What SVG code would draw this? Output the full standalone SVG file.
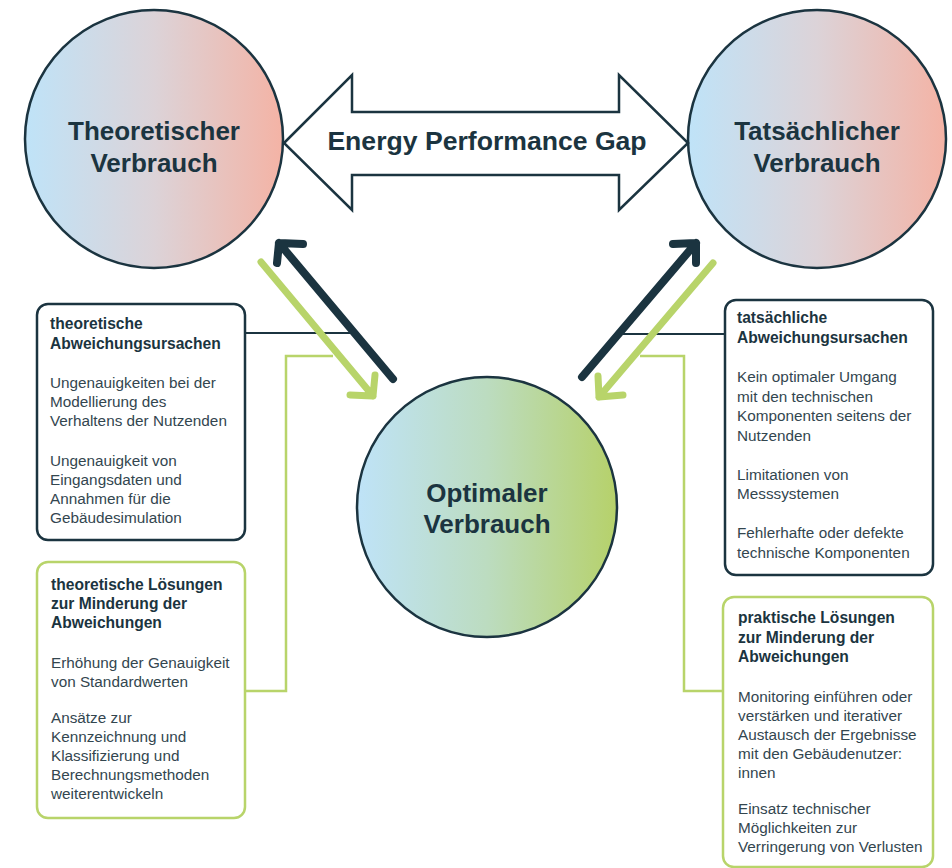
<svg xmlns="http://www.w3.org/2000/svg" width="952" height="868" viewBox="0 0 952 868">
<defs>
<linearGradient id="gRed" x1="0" y1="0" x2="1" y2="0">
<stop offset="0" stop-color="#bfe3f8"/>
<stop offset="0.5" stop-color="#dcd3d8"/>
<stop offset="1" stop-color="#f4b3a5"/>
</linearGradient>
<linearGradient id="gGreen" x1="0" y1="0" x2="1" y2="0">
<stop offset="0" stop-color="#bfe3f8"/>
<stop offset="0.5" stop-color="#bcdcc0"/>
<stop offset="1" stop-color="#b6d16a"/>
</linearGradient>
<style>
.circ{stroke:#1b3440;stroke-width:2.5}
.ctext{font-family:"Liberation Sans",Arial,sans-serif;font-weight:700;font-size:26px;fill:#1b3440;text-anchor:middle}
.gap{font-family:"Liberation Sans",Arial,sans-serif;font-weight:700;font-size:26.6px;fill:#1b3440;text-anchor:middle}
.boxD{fill:#fff;stroke:#1b3440;stroke-width:2.5}
.boxG{fill:#fff;stroke:#b8d46a;stroke-width:2.5}
.title{font-family:"Liberation Sans",Arial,sans-serif;font-weight:700;font-size:15.6px;fill:#1b3440}
.body{font-family:"Liberation Sans",Arial,sans-serif;font-size:15.3px;fill:#33464f}
.lnD{fill:none;stroke:#1b3440;stroke-width:2}
.lnG{fill:none;stroke:#b8d46a;stroke-width:2.5}
.arD{fill:none;stroke:#1b3440;stroke-width:8;stroke-linecap:round;stroke-linejoin:round}
.arG{fill:none;stroke:#b8d46a;stroke-width:7;stroke-linecap:round;stroke-linejoin:round}
</style>
</defs>
<g id="connectors">
<polyline class="lnD" points="245,333 352,333"/>
<polyline class="lnG" points="245,691 286,691 286,356 333,356"/>
<polyline class="lnD" points="622,334 725,334"/>
<polyline class="lnG" points="723,691 684,691 684,356 640,356"/>
<path class="arD" d="M393,379 L279,243 M303,244 L279,243 L277,263"/>
<path class="arG" d="M261,262 L373,396 M375,375 L373,396 L350,395"/>
<path class="arD" d="M582,377 L696,243 M673,244 L696,243 L696,263"/>
<path class="arG" d="M713,263 L599,397 M598,376 L599,397 L623,395"/>
</g>
<g id="theoretisch">
<circle class="circ" cx="154" cy="139" r="129" fill="url(#gRed)"/>
<text class="ctext" x="154" y="140">Theoretischer</text>
<text class="ctext" x="154" y="172">Verbrauch</text>
</g>
<g id="tatsaechlich">
<circle class="circ" cx="817" cy="139" r="129" fill="url(#gRed)"/>
<text class="ctext" x="817" y="140">Tatsächlicher</text>
<text class="ctext" x="817" y="172">Verbrauch</text>
</g>
<g id="gap">
<polygon points="284,143 352,75 352,112 619,112 619,75 688,143 619,210 619,175 352,175 352,210" fill="#fff" stroke="#1b3440" stroke-width="2.5" stroke-linejoin="miter"/>
<text class="gap" x="487" y="150">Energy Performance Gap</text>
</g>
<g id="optimal">
<circle class="circ" cx="487" cy="507" r="130" fill="url(#gGreen)"/>
<text class="ctext" x="487" y="502">Optimaler</text>
<text class="ctext" x="487" y="533">Verbrauch</text>
</g>
<g id="box-theo-ursachen">
<rect class="boxD" x="37" y="304" width="208" height="236" rx="11"/>
<text class="title" x="50" y="329">theoretische</text>
<text class="title" x="50" y="349">Abweichungsursachen</text>
<text class="body" x="50" y="388">Ungenauigkeiten bei der</text>
<text class="body" x="50" y="407">Modellierung des</text>
<text class="body" x="50" y="426">Verhaltens der Nutzenden</text>
<text class="body" x="50" y="466">Ungenauigkeit von</text>
<text class="body" x="50" y="485">Eingangsdaten und</text>
<text class="body" x="50" y="504">Annahmen für die</text>
<text class="body" x="50" y="523">Gebäudesimulation</text>
</g>
<g id="box-theo-loesungen">
<rect class="boxG" x="37" y="562" width="208" height="256" rx="11"/>
<text class="title" x="51" y="590">theoretische Lösungen</text>
<text class="title" x="51" y="609">zur Minderung der</text>
<text class="title" x="51" y="628">Abweichungen</text>
<text class="body" x="51" y="668">Erhöhung der Genauigkeit</text>
<text class="body" x="51" y="687">von Standardwerten</text>
<text class="body" x="51" y="723">Ansätze zur</text>
<text class="body" x="51" y="742">Kennzeichnung und</text>
<text class="body" x="51" y="761">Klassifizierung und</text>
<text class="body" x="51" y="780">Berechnungsmethoden</text>
<text class="body" x="51" y="799">weiterentwickeln</text>
</g>
<g id="box-tats-ursachen">
<rect class="boxD" x="725" y="300" width="208" height="275" rx="11"/>
<text class="title" x="737" y="323">tatsächliche</text>
<text class="title" x="737" y="343">Abweichungsursachen</text>
<text class="body" x="737" y="382">Kein optimaler Umgang</text>
<text class="body" x="737" y="402">mit den technischen</text>
<text class="body" x="737" y="421">Komponenten seitens der</text>
<text class="body" x="737" y="441">Nutzenden</text>
<text class="body" x="737" y="480">Limitationen von</text>
<text class="body" x="737" y="499">Messsystemen</text>
<text class="body" x="737" y="538">Fehlerhafte oder defekte</text>
<text class="body" x="737" y="558">technische Komponenten</text>
</g>
<g id="box-prakt-loesungen">
<rect class="boxG" x="723" y="597" width="210" height="270" rx="11"/>
<text class="title" x="738" y="623">praktische Lösungen</text>
<text class="title" x="738" y="643">zur Minderung der</text>
<text class="title" x="738" y="662">Abweichungen</text>
<text class="body" x="738" y="702">Monitoring einführen oder</text>
<text class="body" x="738" y="721">verstärken und iterativer</text>
<text class="body" x="738" y="740">Austausch der Ergebnisse</text>
<text class="body" x="738" y="759">mit den Gebäudenutzer:</text>
<text class="body" x="738" y="778">innen</text>
<text class="body" x="738" y="814">Einsatz technischer</text>
<text class="body" x="738" y="833">Möglichkeiten zur</text>
<text class="body" x="738" y="852">Verringerung von Verlusten</text>
</g>
</svg>
